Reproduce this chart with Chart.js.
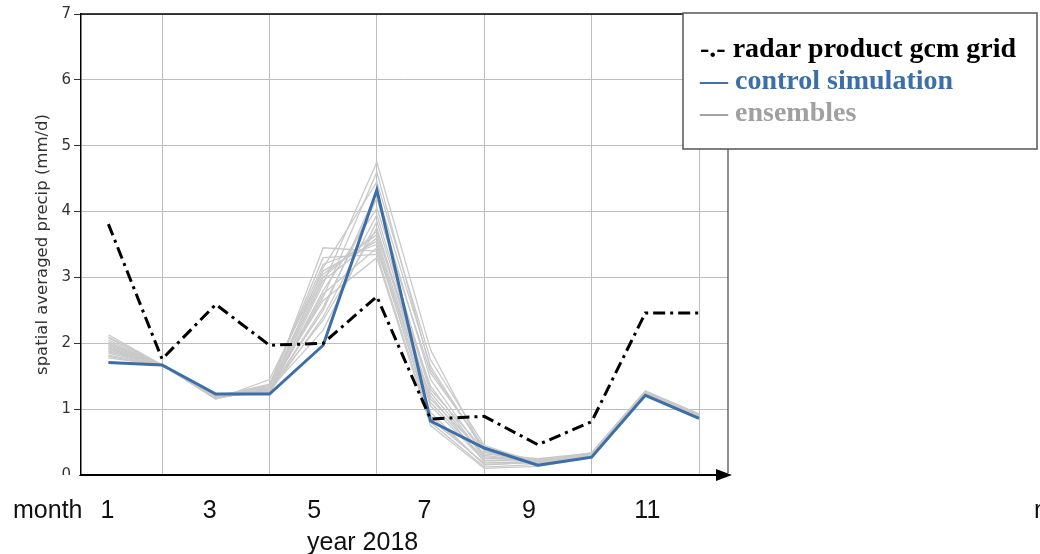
<!DOCTYPE html>
<html>
<head>
<meta charset="utf-8">
<script src="https://cdn.jsdelivr.net/npm/chart.js@4"></script>
<style>
  html, body { margin: 0; padding: 0; background: #fff; }
  #c { display: block; }
</style>
</head>
<body>
<canvas id="c" width="1040" height="554"></canvas>
<script>
// ── data ────────────────────────────────────────
const months  = [1, 2, 3, 4, 5, 6, 7, 8, 9, 10, 11, 12];
const radar   = [3.81, 1.76, 2.59, 1.97, 2.00, 2.71, 0.85, 0.89, 0.46, 0.81, 2.46, 2.46];
const control = [1.71, 1.67, 1.23, 1.23, 1.97, 4.33, 0.82, 0.41, 0.15, 0.27, 1.21, 0.86];

// ensemble members (read by eye, one array per member)
const ens01 = [2.13, 1.67, 1.17, 1.30, 3.45, 3.40, 1.20, 0.20, 0.18, 0.30, 1.25, 0.90];
const ens02 = [2.05, 1.67, 1.20, 1.25, 2.90, 4.75, 1.90, 0.35, 0.15, 0.28, 1.22, 0.88];
const ens03 = [1.98, 1.67, 1.15, 1.45, 3.10, 3.55, 0.95, 0.15, 0.20, 0.32, 1.27, 0.92];
const ens04 = [1.92, 1.67, 1.22, 1.28, 2.70, 4.60, 1.60, 0.40, 0.22, 0.30, 1.24, 0.89];
const ens05 = [1.88, 1.67, 1.18, 1.35, 3.30, 3.35, 0.80, 0.12, 0.16, 0.27, 1.21, 0.87];
const ens06 = [1.95, 1.66, 1.20, 1.27, 2.55, 4.20, 1.45, 0.30, 0.19, 0.33, 1.26, 0.91];
const ens07 = [2.10, 1.67, 1.16, 1.32, 3.00, 3.70, 1.10, 0.25, 0.24, 0.31, 1.23, 0.90];
const ens08 = [1.82, 1.66, 1.23, 1.25, 2.40, 3.95, 1.30, 0.38, 0.14, 0.29, 1.22, 0.88];
const ens09 = [1.90, 1.67, 1.19, 1.38, 3.20, 3.50, 0.85, 0.18, 0.21, 0.34, 1.28, 0.93];
const ens10 = [2.02, 1.67, 1.21, 1.26, 2.80, 4.05, 1.55, 0.42, 0.17, 0.28, 1.24, 0.89];
const ens11 = [1.78, 1.67, 1.17, 1.30, 2.20, 3.85, 1.25, 0.28, 0.20, 0.30, 1.25, 0.90];
const ens12 = [1.85, 1.66, 1.22, 1.29, 2.95, 3.60, 1.05, 0.22, 0.23, 0.32, 1.23, 0.88];
const ens13 = [2.00, 1.67, 1.18, 1.33, 2.65, 3.30, 0.75, 0.10, 0.13, 0.26, 1.21, 0.86];
const ens14 = [1.93, 1.67, 1.20, 1.24, 3.15, 4.45, 1.75, 0.45, 0.18, 0.31, 1.26, 0.91];
const ens15 = [2.08, 1.67, 1.16, 1.31, 2.35, 3.75, 1.15, 0.32, 0.25, 0.33, 1.27, 0.92];
const ens16 = [1.80, 1.66, 1.21, 1.27, 2.75, 3.45, 0.90, 0.16, 0.19, 0.29, 1.22, 0.89];
const ens17 = [1.97, 1.67, 1.19, 1.36, 3.05, 3.65, 1.35, 0.26, 0.22, 0.30, 1.24, 0.90];
const ens18 = [1.87, 1.67, 1.23, 1.28, 2.50, 4.30, 1.65, 0.36, 0.16, 0.28, 1.23, 0.88];
const ensembles = [ens01, ens02, ens03, ens04, ens05, ens06, ens07, ens08, ens09,
                   ens10, ens11, ens12, ens13, ens14, ens15, ens16, ens17, ens18];

const yTicks       = [0, 1, 2, 3, 4, 5, 6, 7];
const xGridMonths  = [2, 4, 6, 8, 10, 12];
const monthLabels  = ['1', '3', '5', '7', '9', '11'];
const legendLines  = ['-.- radar product gcm grid', '\u2014 control simulation', '\u2014 ensembles'];

// ── styles ──────────────────────────────────────
const BLUE = '#3c6ea8';
const ENS_GREY = '#c9c9c9';
const GRID = '#bdbdbd';

const toXY = (arr) => arr.map((v, i) => ({ x: months[i], y: v }));

const datasets = [
  { data: toXY(radar), borderColor: '#000', borderWidth: 3, borderDash: [12, 5, 3, 5], order: 0 },
  { data: toXY(control), borderColor: BLUE, borderWidth: 3, order: 1 },
  ...ensembles.map((e) => ({ data: toXY(e), borderColor: ENS_GREY, borderWidth: 1.3, order: 2 })),
].map((d) => ({ ...d, pointRadius: 0, fill: false, tension: 0 }));

// ── overlay: spines, arrow, legend box, month labels ──
const overlay = {
  id: 'overlay',
  afterDraw(chart) {
    const { ctx, chartArea: a, scales: { x } } = chart;
    ctx.save();

    // cut the lower half of the "0" tick label like the source
    ctx.fillStyle = '#fff';
    ctx.fillRect(40, a.bottom, a.left - 42, 20);

    // top and right spines
    ctx.strokeStyle = '#000';
    ctx.lineWidth = 1.5;
    ctx.beginPath();
    ctx.moveTo(a.left, a.top);
    ctx.lineTo(a.right, a.top);
    ctx.stroke();
    ctx.strokeStyle = '#444';
    ctx.lineWidth = 1.2;
    ctx.beginPath();
    ctx.moveTo(a.right, a.top);
    ctx.lineTo(a.right, a.bottom - 2);
    ctx.stroke();

    // arrow head on the x axis
    ctx.fillStyle = '#000';
    ctx.beginPath();
    ctx.moveTo(a.right - 12, a.bottom - 6);
    ctx.lineTo(a.right + 4, a.bottom);
    ctx.lineTo(a.right - 12, a.bottom + 6);
    ctx.closePath();
    ctx.fill();

    // legend box
    const bx = 683, by = 13, bw = 354, bh = 136;
    ctx.fillStyle = '#fff';
    ctx.fillRect(bx, by, bw, bh);
    ctx.strokeStyle = '#555';
    ctx.lineWidth = 1.5;
    ctx.strokeRect(bx, by, bw, bh);
    ctx.font = 'bold 28px "Liberation Serif", serif';
    ctx.textBaseline = 'alphabetic';
    ctx.textAlign = 'left';
    const legendColours = ['#000', BLUE, '#a0a0a0'];
    legendLines.forEach((t, i) => {
      ctx.fillStyle = legendColours[i];
      ctx.fillText(t, 700, 57 + i * 32);
    });

    // month labels under the axis
    ctx.fillStyle = '#111';
    ctx.font = '25px "Liberation Sans", Arial, sans-serif';
    ctx.fillText('month', 13, 518);
    ctx.fillText('month', 1034, 518);
    ctx.textAlign = 'center';
    const nudge = [-1, -6, -9, -6, -9, 2];
    monthLabels.forEach((m, i) => {
      ctx.fillText(m, x.getPixelForValue(Number(m)) + nudge[i], 518);
    });
    ctx.textAlign = 'left';
    ctx.fillText('year 2018', 307, 550);

    ctx.restore();
  },
};

new Chart(document.getElementById('c'), {
  type: 'line',
  data: { datasets },
  plugins: [overlay],
  options: {
    responsive: false,
    animation: false,
    events: [],
    layout: { padding: { top: 14, right: 312, left: 0, bottom: 0 } },
    plugins: { legend: { display: false }, tooltip: { enabled: false } },
    scales: {
      x: {
        type: 'linear',
        min: 0.49,
        max: 12.54,
        afterFit: (s) => { s.height = 79; },
        afterBuildTicks: (s) => { s.ticks = xGridMonths.map((v) => ({ value: v })); },
        ticks: { display: false },
        grid: { color: GRID, lineWidth: 1, drawTicks: false },
        border: { color: '#000', width: 2 },
      },
      y: {
        min: 0,
        max: 7,
        afterFit: (s) => { s.width = 81; },
        afterBuildTicks: (s) => { s.ticks = yTicks.map((v) => ({ value: v })); },
        ticks: { color: '#333', font: { family: '"DejaVu Sans"', size: 15 }, padding: 3 },
        grid: { color: GRID, lineWidth: 1, tickLength: 7, tickColor: '#333' },
        border: { color: '#000', width: 1.5 },
        title: {
          display: true,
          text: 'spatial averaged precip (mm/d)',
          color: '#333',
          font: { family: '"DejaVu Sans"', size: 16.5 },
          padding: { top: 33, bottom: 0 },
        },
      },
    },
  },
});
</script>
</body>
</html>
